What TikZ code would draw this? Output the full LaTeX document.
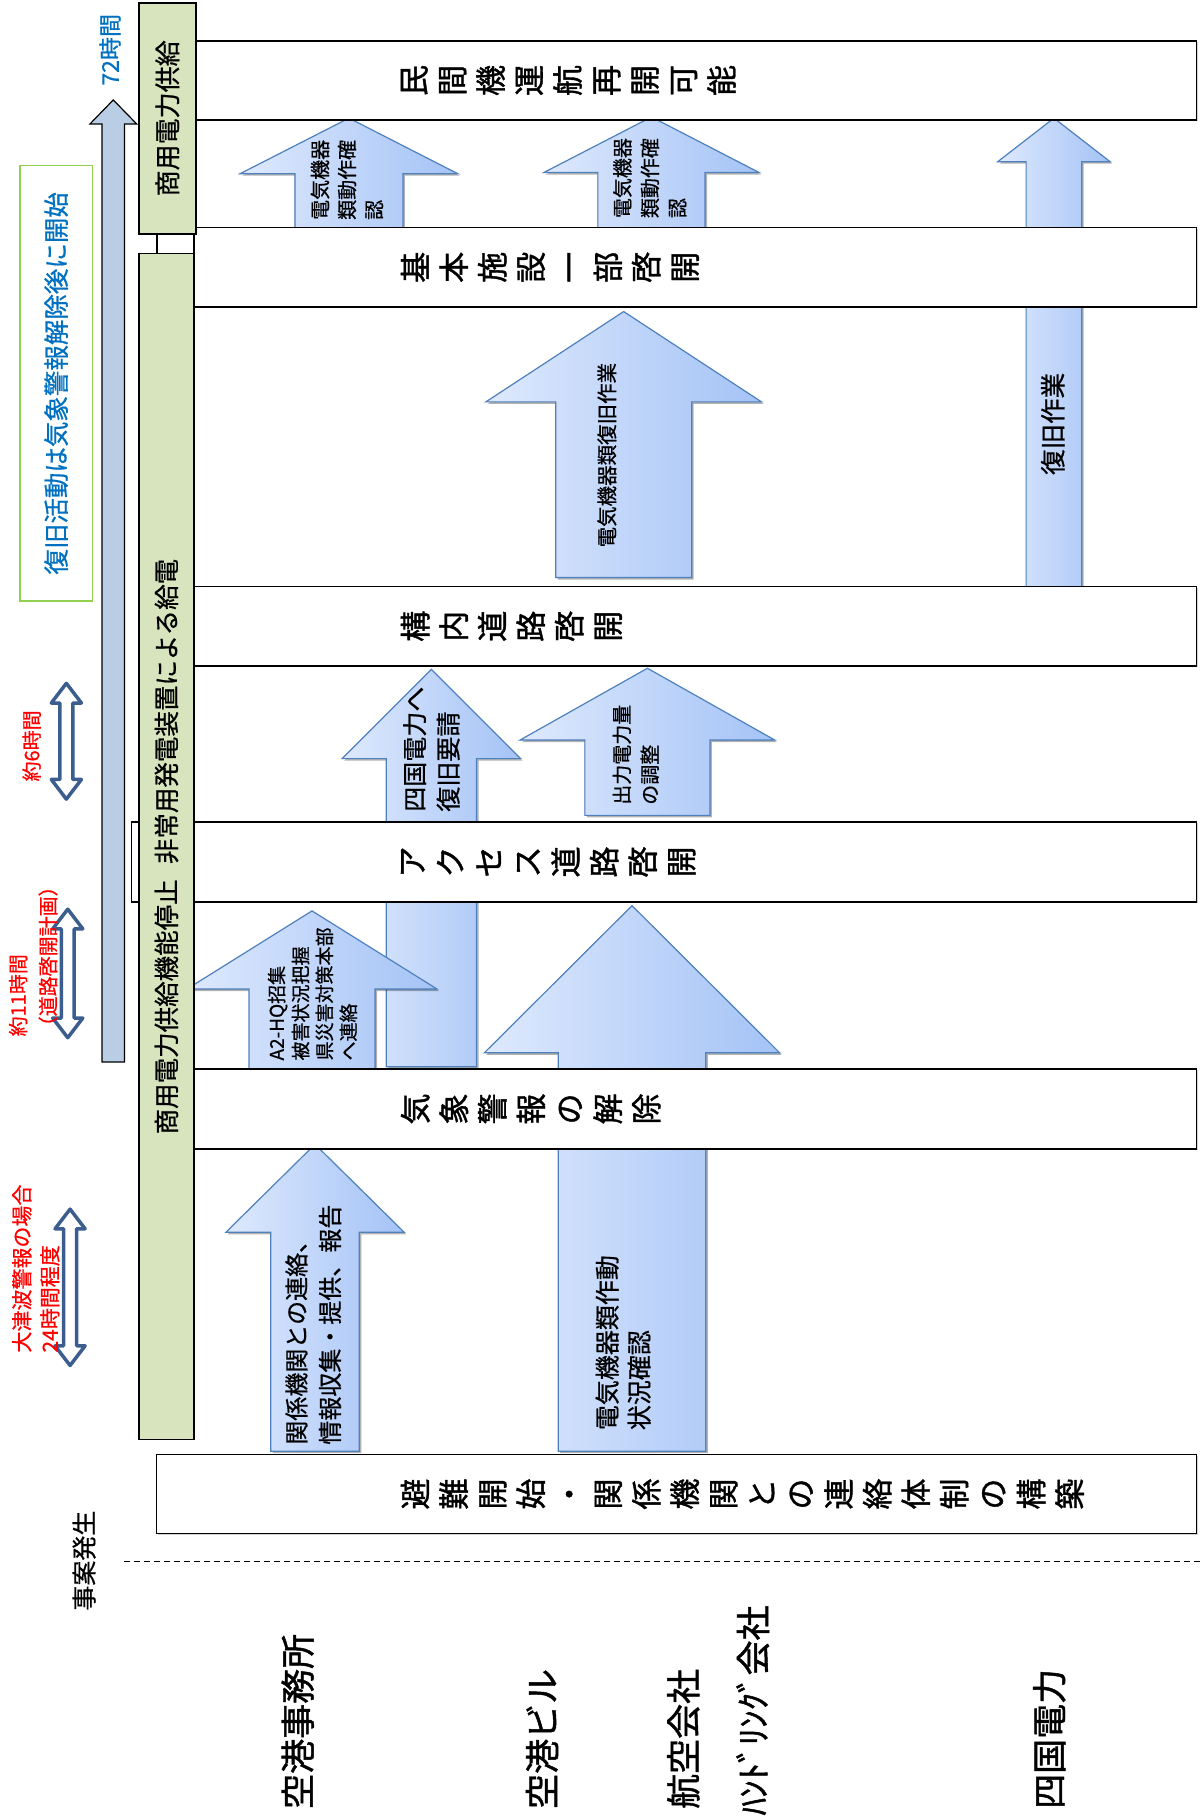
\documentclass[tikz,border=0pt]{standalone}
\usepackage{fontspec}
\setmainfont{Noto Sans CJK JP}
\newfontfamily\jfb[FakeBold=1.3]{Noto Sans CJK JP}
\newfontfamily\jfm[FakeBold=0.7]{Noto Sans CJK JP}
\usetikzlibrary{shadows}
\definecolor{arrL}{RGB}{222,233,253}
\definecolor{arrR}{RGB}{164,195,246}
\definecolor{arrB}{RGB}{79,129,189}
\definecolor{tlfill}{RGB}{185,205,229}
\definecolor{gfill}{RGB}{215,228,189}
\definecolor{gline}{RGB}{146,208,80}
\definecolor{jblue}{RGB}{0,112,192}
\definecolor{dblc}{RGB}{59,94,143}
\def\myu{1.1583pt}
\newcommand\myfs[2]{\fontsize{#1}{#2}\selectfont}
\newcommand\blockarrow[7]{\filldraw[#1] ({#2-#6},#7) -- ({#2-#6},#4) -- ({#2-#5},#4) -- (#2,#3) -- ({#2+#5},#4) -- ({#2+#6},#4) -- ({#2+#6},#7) -- cycle;}
\newcommand\dblarrow[3]{\filldraw[dblarr] (#1,#2) -- ({#1+13},{#2+17}) -- ({#1+5.6},{#2+17}) -- ({#1+5.6},{#3-17}) -- ({#1+13},{#3-17}) -- (#1,#3) -- ({#1-13},{#3-17}) -- ({#1-5.6},{#3-17}) -- ({#1-5.6},{#2+17}) -- ({#1-13},{#2+17}) -- cycle;}
\newcommand\mkbox[5]{\node[whitebox, minimum width={(#4-#2)*\myu}, minimum height={(#5-#3)*\myu}] (#1) at ({(#2+#4)/2},{(#3+#5)/2}) {};}
\begin{document}
\begin{tikzpicture}[x=1.1583pt, y=-1.1583pt,
  blockarr/.style={draw=arrB, line width=1.2pt, left color=arrL, right color=arrR, line join=miter,
     drop shadow={shadow xshift=2pt, shadow yshift=-2pt, opacity=0.3, fill=black}},
  tlarrow/.style={draw=black, line width=1.2pt, fill=tlfill},
  dblarr/.style={draw=dblc, line width=3.5pt, fill=white, line join=round},
  whitebox/.style={draw=black, line width=1.5pt, fill=white, inner sep=0pt,
     drop shadow={shadow xshift=1.5pt, shadow yshift=-1.5pt, opacity=0.35}},
  greenbar/.style={draw=black, line width=1.6pt, fill=gfill, inner sep=0pt, rotate=90},
  boxlbl/.style={rotate=90, anchor=north, align=center, inner sep=0pt, font=\jfb\myfs{31}{38.5}},
  arrlbl/.style={rotate=90, anchor=west, align=left, inner sep=0pt},
  orglbl/.style={rotate=90, anchor=west, inner sep=0pt, font=\jfb\myfs{35}{40}},
  redlbl/.style={rotate=90, text=red, inner sep=0pt}]
\useasboundingbox (0,0) rectangle (1036,1568);

% left column
\node[draw=gline, line width=1.5pt, fill=white, rotate=90, inner sep=0pt,
  minimum width={376*\myu}, minimum height={62.4*\myu}, text=jblue, font=\jfm\myfs{25.5}{30}] (note) at (48.5,331) {復旧活動は気象警報解除後に開始};
\node[rotate=90, text=jblue, font=\jfm\myfs{23}{27}, inner sep=0pt] (t72) at (95,43) {72時間};
\filldraw[tlarrow] (88,917) -- (88,107) -- (77.7,107) -- (97.8,86.3) -- (118,107) -- (107.5,107) -- (107.5,917) -- cycle;

\dblarrow{57.3}{590}{690}
\dblarrow{58.5}{785}{896}
\dblarrow{60.5}{1044}{1179}
\node[redlbl, font=\jfm\myfs{20}{24}] (r6) at (27.3,644) {約6時間};
\node[redlbl, anchor=west, align=left, font=\jfm\myfs{20}{30}] (r11) at (28.7,895) {約11時間\\（道路啓開計画）};
\node[redlbl, anchor=west, align=left, font=\jfm\myfs{21}{28}] (r24) at (30.9,1168) {大津波警報の場合\\24時間程度};

\node[rotate=90, font=\jfm\myfs{25}{30}, inner sep=0pt] (jian) at (72.6,1347.5) {事案発生};
\coordinate (dL) at (107,1348);
\coordinate (dR) at (1036,1348);
\draw[dash pattern=on 6pt off 4pt, line width=1.3pt] (dL) -- (dR);

% block arrows
\blockarrow{blockarr}{301.3}{102}{150}{94}{46.6}{196.6}
\blockarrow{blockarr}{562.5}{101}{149}{93}{46.3}{196.6}
\blockarrow{blockarr}{910}{102}{139.6}{48.5}{24}{506.5}
\blockarrow{blockarr}{538.5}{269}{347}{119}{58.7}{498.7}
\blockarrow{blockarr}{372.5}{578}{655}{77}{39}{921}
\blockarrow{blockarr}{559}{577}{639}{110}{54}{704}
\blockarrow{blockarr}{269.4}{786.5}{854}{108}{54.4}{923}
\blockarrow{blockarr}{545.7}{782}{909}{127.5}{63.7}{1253}
\blockarrow{blockarr}{272}{988}{1064}{77}{38.2}{1253}

% white boxes
\mkbox{bA}{160}{35.4}{1033}{103.6}
\mkbox{bB}{167.5}{196.6}{1033}{265}
\mkbox{bC}{160}{506.5}{1033}{575}
\mkbox{bD}{113.5}{709.7}{1033}{778.8}
\mkbox{bE}{160}{923}{1033}{992}
\mkbox{bF}{135}{1256}{1033}{1324}

\node[boxlbl] (lA) at (346,69.5) {民\\間\\機\\運\\航\\再\\開\\可\\能};
\node[boxlbl] (lB) at (346,230.8) {基\\本\\施\\設\\一\\部\\啓\\開};
\node[boxlbl] (lC) at (346,540.75) {構\\内\\道\\路\\啓\\開};
\node[boxlbl] (lD) at (346,744.25) {ア\\ク\\セ\\ス\\道\\路\\啓\\開};
\node[boxlbl] (lE) at (346,957.5) {気\\象\\警\\報\\の\\解\\除};
\node[boxlbl] (lF) at (346,1290) {避\\難\\開\\始\\・\\関\\係\\機\\関\\と\\の\\連\\絡\\体\\制\\の\\構\\築};

% green bars
\node[greenbar, minimum width={199.7*\myu}, minimum height={49*\myu}, font=\jfm\myfs{26}{30}] (g1) at (144.5,102.2) {商用電力供給};
\node[greenbar, minimum width={1024*\myu}, minimum height={47.5*\myu}, font=\jfm\myfs{25.5}{30}] (g2) at (143.75,731) {商用電力供給機能停止\hspace{0.6em}非常用発電装置による給電};
\coordinate (gx) at (135.5,0);
\draw[line width=1.3pt] (g1.west -| gx) -- (g2.east -| gx);

% arrow labels
\node[arrlbl, font=\jfm\myfs{20}{27}] (a1) at (299.5,190) {電気機器\\類動作確\\認};
\node[arrlbl, font=\jfm\myfs{20}{27.5}] (a2) at (561,188.5) {電気機器\\類動作確\\認};
\node[rotate=90, inner sep=0pt, font=\jfm\myfs{25.5}{30}] (a3) at (909,366) {復旧作業};
\node[rotate=90, inner sep=0pt, font=\jfm\myfs{20.5}{24}] (a4) at (524,393) {電気機器類復旧作業};
\node[arrlbl, font=\jfm\myfs{25}{33.6}] (a5) at (372.5,701) {四国電力へ\\復旧要請};
\node[arrlbl, font=\jfm\myfs{20}{28}] (a6) at (549,695) {出力電力量\\の調整};
\node[arrlbl, font=\jfm\myfs{19}{23.9}] (a7) at (269.8,915.8) {A2-HQ招集\\被害状況把握\\県災害対策本部\\へ連絡};
\node[arrlbl, font=\jfm\myfs{25}{32}] (a8) at (538,1235) {電気機器類作動\\状況確認};
\node[arrlbl, font=\jfm\myfs{24}{33.6}] (a9) at (270.5,1247.5) {関係機関との連絡、\\情報収集・提供、報告};

% organisation labels
\node[orglbl] (o1) at (257,1562) {空港事務所};
\node[orglbl] (o2) at (468,1562) {空港ビル};
\node[orglbl] (o3) at (590,1562) {航空会社};
\node[orglbl, anchor=east] (o4) at (650,1386) {ﾊﾝﾄﾞﾘﾝｸﾞ会社};
\node[orglbl] (o5) at (906,1562) {四国電力};
\end{tikzpicture}
\end{document}
